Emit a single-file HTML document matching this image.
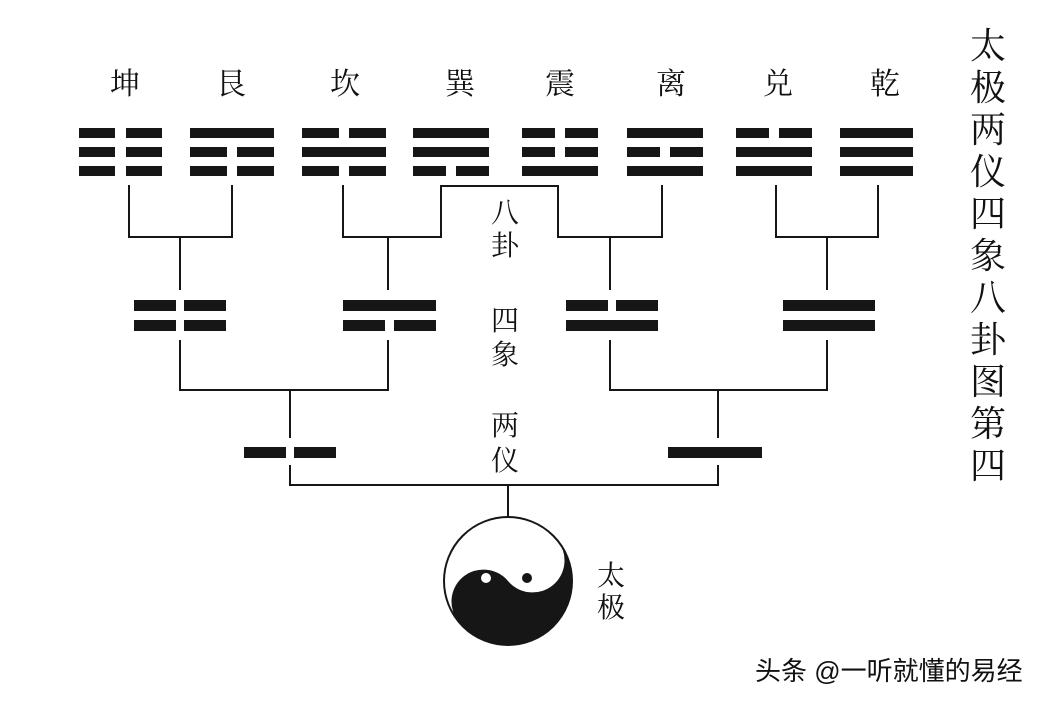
<!DOCTYPE html>
<html><head><meta charset="utf-8"><style>
body{margin:0;background:#fff;}
svg text{font-family:"Liberation Serif","Noto Serif CJK SC",serif;fill:#111;}
</style></head><body>
<svg width="1047" height="703" viewBox="0 0 1047 703" xmlns="http://www.w3.org/2000/svg">
<g font-size="30" text-anchor="middle">
<text x="125" y="94">坤</text><text x="231" y="94">艮</text><text x="345" y="94">坎</text><text x="460" y="94">巽</text>
<text x="560" y="94">震</text><text x="671" y="94">离</text><text x="778" y="94">兑</text><text x="885" y="94">乾</text>
</g>
<g fill="#161616">
<rect x="79" y="128" width="36" height="10"/><rect x="126" y="128" width="36" height="10"/>
<rect x="79" y="147" width="36" height="10"/><rect x="126" y="147" width="36" height="10"/>
<rect x="79" y="166" width="36" height="10"/><rect x="126" y="166" width="36" height="10"/>
<rect x="190" y="128" width="84" height="10"/>
<rect x="190" y="147" width="37" height="10"/><rect x="237" y="147" width="37" height="10"/>
<rect x="190" y="166" width="37" height="10"/><rect x="237" y="166" width="37" height="10"/>
<rect x="302" y="128" width="37" height="10"/><rect x="349" y="128" width="37" height="10"/>
<rect x="302" y="147" width="84" height="10"/>
<rect x="302" y="166" width="37" height="10"/><rect x="349" y="166" width="37" height="10"/>
<rect x="413" y="128" width="76" height="10"/>
<rect x="413" y="147" width="76" height="10"/>
<rect x="413" y="166" width="33" height="10"/><rect x="456" y="166" width="33" height="10"/>
<rect x="522" y="128" width="33" height="10"/><rect x="565" y="128" width="33" height="10"/>
<rect x="522" y="147" width="33" height="10"/><rect x="565" y="147" width="33" height="10"/>
<rect x="522" y="166" width="76" height="10"/>
<rect x="627" y="128" width="76" height="10"/>
<rect x="627" y="147" width="33" height="10"/><rect x="670" y="147" width="33" height="10"/>
<rect x="627" y="166" width="76" height="10"/>
<rect x="736" y="128" width="33" height="10"/><rect x="779" y="128" width="33" height="10"/>
<rect x="736" y="147" width="76" height="10"/>
<rect x="736" y="166" width="76" height="10"/>
<rect x="840" y="128" width="73" height="10"/>
<rect x="840" y="147" width="73" height="10"/>
<rect x="840" y="166" width="73" height="10"/>
<rect x="134" y="300" width="42" height="11"/><rect x="184" y="300" width="42" height="11"/>
<rect x="134" y="320" width="42" height="11"/><rect x="184" y="320" width="42" height="11"/>
<rect x="343" y="300" width="93" height="11"/>
<rect x="343" y="320" width="42" height="11"/><rect x="394" y="320" width="42" height="11"/>
<rect x="566" y="300" width="42" height="11"/><rect x="616" y="300" width="42" height="11"/>
<rect x="566" y="320" width="92" height="11"/>
<rect x="783" y="300" width="92" height="11"/>
<rect x="783" y="320" width="92" height="11"/>
<rect x="244" y="447" width="42" height="11"/><rect x="294" y="447" width="42" height="11"/>
<rect x="668" y="447" width="94" height="11"/>
</g>
<g stroke="#161616" stroke-width="2" fill="none">
<path d="M129 185V237H232V185M180 237V290"/>
<path d="M343 185V237H441V186H558V237H662V185M388 237V290M610 237V290"/>
<path d="M776 185V237H878V185M827 237V290"/>
<path d="M180 340V390H388V340M290 390V438"/>
<path d="M610 340V390H827V340M718 390V438"/>
<path d="M290 465V485H718V465M508 485V517"/>
</g>
<g>
<circle cx="508" cy="581" r="64" fill="#fff" stroke="#161616" stroke-width="2"/>
<path transform="rotate(-40 508 581)" d="M444 581 A32 32 0 0 1 508 581 A32 32 0 0 0 572 581 A64 64 0 0 1 444 581Z" fill="#161616"/>
<circle cx="486" cy="578" r="5" fill="#fff"/>
<circle cx="527" cy="578" r="5" fill="#161616"/>
</g>
<g font-size="28" text-anchor="middle">
<text x="505" y="222">八</text><text x="505" y="255">卦</text>
<text x="505" y="330">四</text><text x="505" y="364">象</text>
<text x="505" y="435">两</text><text x="505" y="470">仪</text>
<text x="611" y="585">太</text><text x="611" y="617">极</text>
</g>
<g font-size="36" text-anchor="middle">
<text x="988" y="58">太</text><text x="988" y="100">极</text><text x="988" y="142">两</text><text x="988" y="184">仪</text>
<text x="988" y="226">四</text><text x="988" y="268">象</text><text x="988" y="310">八</text><text x="988" y="352">卦</text>
<text x="988" y="394">图</text><text x="988" y="436">第</text><text x="988" y="478">四</text>
</g>
<text x="755" y="680" font-size="26" style='font-family:"Liberation Sans","Noto Sans CJK SC",sans-serif' fill="#222">头条 @一听就懂的易经</text>
</svg>
</body></html>
